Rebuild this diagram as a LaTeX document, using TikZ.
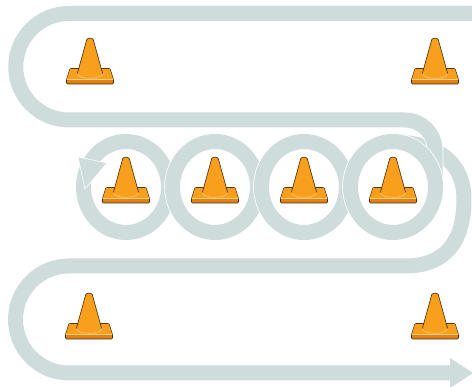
\documentclass[tikz,border=0pt]{standalone}
\usepackage{xcolor}
\usepackage{tikz}

\definecolor{trackgrey}{RGB}{206,220,219}
\definecolor{coneorange}{RGB}{248,159,30}
\definecolor{conedark}{RGB}{224,130,20}
\definecolor{conelight}{RGB}{253,206,132}
\definecolor{coneline}{RGB}{64,42,12}

\begin{document}
\begin{tikzpicture}[x=1pt,y=1pt,
            track/.style={draw=white, line width=0.8pt, double=trackgrey, double distance=15pt},
            tip/.style={fill=trackgrey, draw=white, line width=0.6pt},
            cone/.pic={
              \filldraw[fill=conedark,draw=coneline,line width=0.6pt,rounded corners=1pt]
                (-23.5,0) -- (23.5,0) -- (23.5,4.5) -- (20,15.5) -- (-20,15.5) -- (-23.5,4.5) -- cycle;
              \fill[coneorange] (-23,4.8) -- (23,4.8) -- (19.7,15.1) -- (-19.7,15.1) -- cycle;
              \draw[conelight,line width=0.5pt] (-22.6,4.6) -- (22.6,4.6);
              \fill[coneorange] (-12.7,10.3) -- (-3.3,44.3) .. controls (-2.4,46.4) and (2.4,46.4) .. (3.3,44.3)
                -- (12.7,10.3) arc[start angle=0,end angle=-180,x radius=12.7,y radius=4.6] -- cycle;
              \draw[coneline,line width=0.6pt] (-12.7,10.3) -- (-3.3,44.3) .. controls (-2.4,46.4) and (2.4,46.4) .. (3.3,44.3) -- (12.7,10.3);
              \draw[conelight,line width=0.5pt] (12.7,10.3) arc[start angle=0,end angle=-180,x radius=12.7,y radius=4.6];
            }]
        \useasboundingbox (0,0) rectangle (472,387);
        \clip (0,0) rectangle (472,387);

        % lower lane: swing out on the right, u-turn, exit
        \draw[track] (393,245) .. controls (432,245) and (464,228) .. (464,188)
            .. controls (464,145) and (445,121) .. (405,121) -- (69,121)
            arc[start angle=90,end angle=270,radius=53.5] -- (450,14);
        \fill[trackgrey] (450,29) -- (473,14) -- (450,-1) -- cycle;

        % upper lane
        \draw[track] (480,373.5) -- (69,373.5) arc[start angle=90,end angle=270,radius=53.25]
            -- (405,267) arc[start angle=90,end angle=0,radius=30] -- (435,200);

        % loops round the middle row
        \foreach \cx in {126,215,304,393}
            \draw[track] (\cx,200) ellipse[x radius=42.5,y radius=45.5];
        \filldraw[tip] (78,230) -- (107,224) -- (85,198) -- cycle;

        \pic at (90,303) {cone};
        \pic at (435,303) {cone};
        \foreach \cx in {126,215,304,393}
            \pic at (\cx,184) {cone};
        \pic at (89,48) {cone};
        \pic at (435,48) {cone};
\end{tikzpicture}
\end{document}
